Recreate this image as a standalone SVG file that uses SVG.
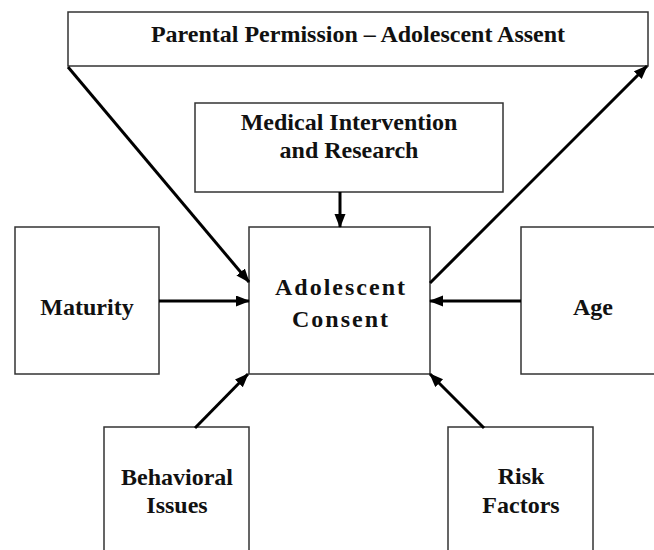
<svg xmlns="http://www.w3.org/2000/svg" width="654" height="550" viewBox="0 0 654 550">
<style>
.box{fill:#fff;stroke:#333;stroke-width:1.5}
.t{font-family:"Liberation Serif","Times New Roman",serif;font-weight:bold;font-size:24px;fill:#111;text-anchor:middle}
.sp{letter-spacing:2px}
.c{stroke:#000;stroke-width:3;fill:none;marker-end:url(#ah)}
</style>
<defs>
<marker id="ah" markerUnits="userSpaceOnUse" markerWidth="14" markerHeight="12" refX="13" refY="5.5" orient="auto">
<path d="M0,0 L14,5.5 L0,11 z" fill="#000"/>
</marker>
</defs>
<rect width="654" height="550" fill="#fff"/>
<g id="parental">
<rect class="box" x="68" y="12" width="580" height="54"/>
<text class="t" x="358" y="42">Parental Permission – Adolescent Assent</text>
</g>
<g id="medical">
<rect class="box" x="195" y="103" width="308" height="89"/>
<text class="t" x="349" y="130">Medical Intervention</text>
<text class="t" x="349" y="158">and Research</text>
</g>
<g id="consent">
<rect class="box" x="249" y="227" width="181" height="147"/>
<text class="t sp" x="341" y="295">Adolescent</text>
<text class="t sp" x="341" y="327">Consent</text>
</g>
<g id="maturity">
<rect class="box" x="15" y="227" width="144" height="147"/>
<text class="t" x="87" y="315">Maturity</text>
</g>
<g id="age">
<rect class="box" x="521" y="227" width="150" height="147"/>
<text class="t" x="593" y="315">Age</text>
</g>
<g id="behavioral">
<rect class="box" x="104" y="427" width="145" height="140"/>
<text class="t" x="177" y="485">Behavioral</text>
<text class="t" x="177" y="513">Issues</text>
</g>
<g id="risk">
<rect class="box" x="448" y="427" width="145" height="140"/>
<text class="t" x="521" y="484">Risk</text>
<text class="t" x="521" y="513">Factors</text>
</g>
<g id="connectors">
<line class="c" x1="68" y1="67" x2="249" y2="282"/>
<line class="c" x1="430" y1="283" x2="647" y2="66"/>
<line class="c" x1="340" y1="192" x2="340" y2="227"/>
<line class="c" x1="159" y1="301" x2="249" y2="301"/>
<line class="c" x1="521" y1="301" x2="430" y2="301"/>
<line class="c" x1="195" y1="428" x2="248" y2="374"/>
<line class="c" x1="484" y1="428" x2="430" y2="374"/>
</g>
</svg>
